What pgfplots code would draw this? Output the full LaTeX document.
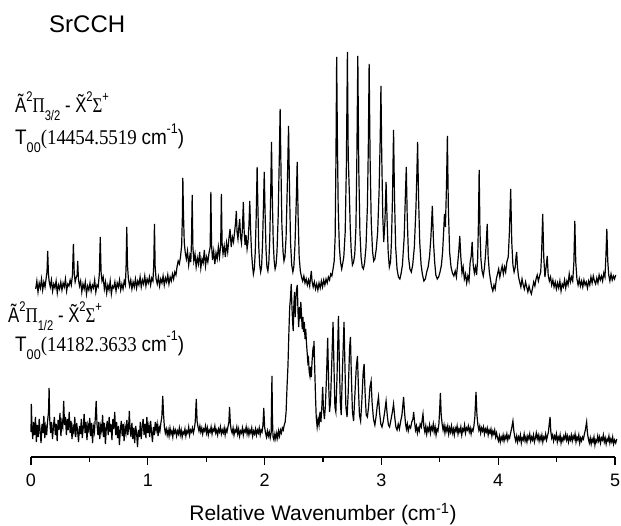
\documentclass[border=0pt]{standalone}
\usepackage{graphicx}
\usepackage{pgfplots}
\usepackage{pgfplotstable}
\pgfplotsset{compat=1.18}
\usepackage{fontspec}
\setmainfont{Liberation Sans}
\newfontfamily\serif{Liberation Serif}
\newcommand{\mysub}[1]{\raisebox{-0.35em}{\fontsize{14}{14}\selectfont #1}}
\newcommand{\mysup}[1]{\raisebox{0.55em}{\fontsize{14}{14}\selectfont #1}}

\pgfplotstableread[row sep=\\]{
x y\\
0.040 168\\ 0.050 176\\ 0.060 165\\ 0.070 174\\ 0.080 169\\ 0.090 178\\ 0.100 167\\ 0.110 175\\ 0.120 170\\ 0.130 179\\
0.137 185\\ 0.143 206\\ 0.149 184\\ 0.155 176\\ 0.165 170\\ 0.175 177\\ 0.185 166\\ 0.195 173\\ 0.205 169\\ 0.215 176\\
0.225 164\\ 0.235 172\\ 0.245 168\\ 0.255 175\\ 0.265 167\\ 0.275 174\\ 0.285 170\\ 0.295 178\\ 0.305 166\\ 0.315 173\\
0.325 171\\ 0.335 177\\ 0.345 172\\ 0.355 182\\ 0.363 213\\ 0.370 184\\ 0.378 175\\ 0.388 180\\ 0.395 182\\ 0.400 196\\
0.406 178\\ 0.415 171\\ 0.425 176\\ 0.435 165\\ 0.445 173\\ 0.455 168\\ 0.465 175\\ 0.475 163\\ 0.485 171\\ 0.495 167\\
0.505 174\\ 0.515 166\\ 0.525 172\\ 0.535 169\\ 0.545 177\\ 0.555 165\\ 0.565 172\\ 0.575 170\\ 0.585 183\\ 0.593 220\\
0.600 185\\ 0.608 176\\ 0.618 180\\ 0.628 168\\ 0.638 175\\ 0.648 164\\ 0.658 172\\ 0.668 167\\ 0.678 176\\ 0.688 163\\
0.698 171\\ 0.708 169\\ 0.718 175\\ 0.728 166\\ 0.738 174\\ 0.748 170\\ 0.758 177\\ 0.768 167\\ 0.778 173\\ 0.788 168\\
0.798 176\\ 0.808 172\\ 0.814 190\\ 0.820 230\\ 0.826 192\\ 0.834 178\\ 0.844 171\\ 0.854 177\\ 0.864 168\\ 0.874 175\\
0.884 170\\ 0.894 178\\ 0.904 169\\ 0.914 176\\ 0.924 172\\ 0.934 180\\ 0.944 170\\ 0.954 177\\ 0.964 173\\ 0.974 181\\
0.984 171\\ 0.994 178\\ 1.004 174\\ 1.014 180\\ 1.024 172\\ 1.034 179\\ 1.044 176\\ 1.051 192\\ 1.057 233\\ 1.063 190\\
1.071 178\\ 1.081 173\\ 1.091 180\\ 1.101 171\\ 1.111 178\\ 1.121 174\\ 1.131 181\\ 1.141 172\\ 1.151 179\\ 1.161 175\\
1.171 182\\ 1.181 173\\ 1.191 180\\ 1.201 176\\ 1.211 183\\ 1.221 178\\ 1.231 185\\ 1.241 182\\ 1.250 190\\ 1.260 196\\
1.270 193\\ 1.280 200\\ 1.290 212\\ 1.296 240\\ 1.300 279\\ 1.305 245\\ 1.312 215\\ 1.320 205\\ 1.330 198\\ 1.340 206\\
1.350 192\\ 1.360 201\\ 1.368 195\\ 1.374 215\\ 1.380 262\\ 1.386 210\\ 1.394 196\\ 1.404 203\\ 1.414 190\\ 1.424 199\\
1.434 193\\ 1.444 205\\ 1.454 189\\ 1.464 198\\ 1.474 194\\ 1.484 207\\ 1.494 191\\ 1.504 200\\ 1.514 195\\ 1.524 204\\
1.534 210\\ 1.540 265\\ 1.546 212\\ 1.554 197\\ 1.564 206\\ 1.574 193\\ 1.584 204\\ 1.594 198\\ 1.604 210\\ 1.614 200\\
1.624 212\\ 1.630 263\\ 1.636 214\\ 1.644 203\\ 1.654 211\\ 1.664 200\\ 1.674 214\\ 1.684 205\\ 1.694 218\\ 1.704 228\\
1.714 210\\ 1.724 220\\ 1.734 215\\ 1.744 226\\ 1.752 235\\ 1.758 246\\ 1.764 225\\ 1.772 218\\ 1.780 230\\ 1.787 238\\
1.794 220\\ 1.802 214\\ 1.810 228\\ 1.818 255\\ 1.825 226\\ 1.833 212\\ 1.841 222\\ 1.850 208\\ 1.858 215\\ 1.866 232\\
1.873 256\\ 1.880 228\\ 1.888 205\\ 1.896 192\\ 1.904 183\\ 1.912 188\\ 1.920 205\\ 1.928 240\\ 1.936 290\\ 1.943 248\\
1.950 210\\ 1.958 192\\ 1.966 185\\ 1.974 190\\ 1.982 212\\ 1.990 250\\ 1.997 285\\ 2.004 245\\ 2.012 208\\ 2.020 190\\
2.028 186\\ 2.036 194\\ 2.044 218\\ 2.052 262\\ 2.059 315\\ 2.066 260\\ 2.074 215\\ 2.082 196\\ 2.090 188\\ 2.098 192\\
2.106 205\\ 2.116 240\\ 2.126 300\\ 2.133 348\\ 2.140 290\\ 2.148 232\\ 2.158 205\\ 2.166 196\\ 2.174 200\\ 2.184 220\\
2.196 280\\ 2.205 331\\ 2.213 270\\ 2.222 215\\ 2.232 192\\ 2.242 185\\ 2.250 190\\ 2.260 212\\ 2.271 255\\ 2.279 295\\
2.287 240\\ 2.296 200\\ 2.306 186\\ 2.316 180\\ 2.326 176\\ 2.336 181\\ 2.346 174\\ 2.356 178\\ 2.366 172\\ 2.376 177\\
2.386 171\\ 2.394 180\\ 2.400 186\\ 2.406 176\\ 2.416 170\\ 2.426 175\\ 2.436 168\\ 2.446 173\\ 2.456 167\\ 2.466 174\\
2.476 169\\ 2.486 176\\ 2.496 170\\ 2.506 177\\ 2.516 172\\ 2.526 178\\ 2.536 174\\ 2.546 180\\ 2.556 177\\ 2.566 183\\
2.576 181\\ 2.586 188\\ 2.596 196\\ 2.604 220\\ 2.611 300\\ 2.617 400\\ 2.623 320\\ 2.630 250\\ 2.640 210\\ 2.650 195\\
2.660 188\\ 2.668 193\\ 2.678 200\\ 2.690 225\\ 2.700 290\\ 2.709 405\\ 2.716 300\\ 2.725 266\\ 2.733 230\\ 2.742 205\\
2.752 192\\ 2.762 195\\ 2.772 203\\ 2.782 230\\ 2.790 300\\ 2.798 401\\ 2.806 290\\ 2.816 225\\ 2.826 200\\ 2.836 190\\
2.846 188\\ 2.856 194\\ 2.868 210\\ 2.880 250\\ 2.888 310\\ 2.895 393\\ 2.903 300\\ 2.913 235\\ 2.924 206\\ 2.934 196\\
2.944 198\\ 2.956 208\\ 2.968 225\\ 2.980 265\\ 2.990 320\\ 2.996 371\\ 3.003 300\\ 3.012 240\\ 3.020 215\\ 3.030 235\\
3.040 275\\ 3.048 240\\ 3.058 205\\ 3.068 190\\ 3.078 195\\ 3.086 215\\ 3.095 260\\ 3.104 327\\ 3.112 260\\ 3.122 210\\
3.134 188\\ 3.146 180\\ 3.158 178\\ 3.168 183\\ 3.180 192\\ 3.195 220\\ 3.205 260\\ 3.213 290\\ 3.221 240\\ 3.232 200\\
3.244 188\\ 3.256 185\\ 3.268 192\\ 3.282 210\\ 3.296 250\\ 3.304 285\\ 3.310 315\\ 3.318 260\\ 3.328 215\\ 3.340 192\\
3.352 182\\ 3.364 176\\ 3.376 178\\ 3.388 185\\ 3.400 190\\ 3.412 200\\ 3.424 220\\ 3.436 251\\ 3.446 215\\ 3.456 195\\
3.466 182\\ 3.478 178\\ 3.490 180\\ 3.502 185\\ 3.514 192\\ 3.524 205\\ 3.534 228\\ 3.540 243\\ 3.548 230\\ 3.557 270\\
3.565 321\\ 3.573 250\\ 3.584 205\\ 3.596 190\\ 3.608 184\\ 3.620 181\\ 3.632 186\\ 3.642 180\\ 3.652 192\\ 3.662 205\\
3.671 221\\ 3.680 200\\ 3.690 184\\ 3.700 190\\ 3.710 178\\ 3.720 183\\ 3.730 174\\ 3.740 181\\ 3.750 176\\ 3.760 195\\
3.768 200\\ 3.777 215\\ 3.786 192\\ 3.796 184\\ 3.806 190\\ 3.815 182\\ 3.824 198\\ 3.830 230\\ 3.837 287\\ 3.844 225\\
3.852 198\\ 3.862 186\\ 3.872 181\\ 3.882 189\\ 3.890 200\\ 3.898 215\\ 3.906 233\\ 3.914 200\\ 3.924 185\\ 3.934 177\\
3.944 170\\ 3.954 166\\ 3.964 172\\ 3.974 168\\ 3.984 178\\ 3.994 183\\ 4.004 188\\ 4.014 180\\ 4.024 186\\ 4.034 191\\
4.044 183\\ 4.054 190\\ 4.064 185\\ 4.074 195\\ 4.086 200\\ 4.096 225\\ 4.107 268\\ 4.116 215\\ 4.126 192\\ 4.136 185\\
4.146 190\\ 4.152 200\\ 4.158 205\\ 4.165 190\\ 4.174 180\\ 4.184 175\\ 4.194 170\\ 4.204 178\\ 4.214 172\\ 4.224 168\\
4.234 175\\ 4.244 170\\ 4.254 165\\ 4.264 171\\ 4.274 166\\ 4.284 163\\ 4.294 169\\ 4.304 175\\ 4.314 171\\ 4.324 178\\
4.334 182\\ 4.344 176\\ 4.354 181\\ 4.364 185\\ 4.372 205\\ 4.381 243\\ 4.390 200\\ 4.400 180\\ 4.410 190\\ 4.420 201\\
4.428 182\\ 4.438 176\\ 4.448 180\\ 4.458 172\\ 4.468 177\\ 4.478 170\\ 4.488 175\\ 4.498 168\\ 4.508 174\\ 4.518 169\\
4.528 176\\ 4.538 166\\ 4.548 173\\ 4.558 170\\ 4.568 177\\ 4.578 169\\ 4.588 176\\ 4.598 172\\ 4.608 183\\ 4.618 175\\
4.628 180\\ 4.638 176\\ 4.648 195\\ 4.656 236\\ 4.664 195\\ 4.674 178\\ 4.684 172\\ 4.694 178\\ 4.704 171\\ 4.714 176\\
4.724 170\\ 4.734 177\\ 4.744 172\\ 4.754 175\\ 4.764 169\\ 4.774 176\\ 4.784 172\\ 4.794 180\\ 4.804 174\\ 4.814 181\\
4.824 176\\ 4.834 173\\ 4.844 179\\ 4.854 174\\ 4.864 182\\ 4.874 177\\ 4.884 181\\ 4.894 176\\ 4.904 184\\ 4.914 180\\
4.922 200\\ 4.930 228\\ 4.938 196\\ 4.946 182\\ 4.956 176\\ 4.966 183\\ 4.976 177\\ 4.986 181\\ 4.996 178\\ 5.006 182\\
}\upperdata

\pgfplotstableread[row sep=\\]{
x y\\
0.000 25\\ 0.003 53\\ 0.008 30\\ 0.015 18\\ 0.022 35\\ 0.030 22\\ 0.038 40\\ 0.046 15\\ 0.054 32\\ 0.062 20\\
0.070 38\\ 0.078 26\\ 0.086 14\\ 0.094 33\\ 0.102 24\\ 0.110 41\\ 0.118 19\\ 0.126 30\\ 0.134 22\\ 0.142 36\\
0.150 45\\ 0.155 69\\ 0.160 38\\ 0.168 24\\ 0.176 35\\ 0.184 18\\ 0.192 30\\ 0.200 40\\ 0.208 22\\ 0.216 33\\
0.224 16\\ 0.232 37\\ 0.240 27\\ 0.248 44\\ 0.256 21\\ 0.264 35\\ 0.272 30\\ 0.280 56\\ 0.287 32\\ 0.295 40\\
0.303 22\\ 0.311 38\\ 0.319 27\\ 0.327 45\\ 0.335 24\\ 0.343 36\\ 0.351 18\\ 0.359 30\\ 0.367 25\\ 0.375 40\\
0.383 20\\ 0.391 34\\ 0.399 26\\ 0.407 15\\ 0.415 31\\ 0.423 23\\ 0.431 38\\ 0.439 19\\ 0.447 29\\ 0.455 43\\
0.463 24\\ 0.471 35\\ 0.479 17\\ 0.487 32\\ 0.495 27\\ 0.503 39\\ 0.511 21\\ 0.519 34\\ 0.527 14\\ 0.535 30\\
0.543 25\\ 0.550 38\\ 0.558 56\\ 0.565 33\\ 0.573 22\\ 0.581 35\\ 0.589 18\\ 0.597 31\\ 0.605 26\\ 0.613 42\\
0.621 20\\ 0.629 34\\ 0.637 13\\ 0.645 29\\ 0.653 36\\ 0.661 22\\ 0.669 40\\ 0.677 25\\ 0.685 33\\ 0.693 17\\
0.701 38\\ 0.709 28\\ 0.717 45\\ 0.725 22\\ 0.733 35\\ 0.741 19\\ 0.749 31\\ 0.757 12\\ 0.765 27\\ 0.773 36\\
0.781 21\\ 0.789 33\\ 0.797 16\\ 0.805 30\\ 0.813 24\\ 0.821 37\\ 0.829 22\\ 0.836 30\\ 0.842 46\\ 0.848 28\\
0.856 20\\ 0.864 34\\ 0.872 18\\ 0.880 29\\ 0.888 14\\ 0.896 31\\ 0.904 24\\ 0.912 10\\ 0.920 27\\ 0.928 20\\
0.936 35\\ 0.944 18\\ 0.952 30\\ 0.960 38\\ 0.968 22\\ 0.976 33\\ 0.984 19\\ 0.992 40\\ 1.000 24\\ 1.008 31\\
1.016 20\\ 1.024 36\\ 1.032 25\\ 1.040 15\\ 1.048 30\\ 1.056 22\\ 1.064 35\\ 1.072 27\\ 1.080 33\\ 1.088 21\\
1.096 30\\ 1.104 26\\ 1.112 34\\ 1.120 40\\ 1.128 61\\ 1.135 42\\ 1.142 30\\ 1.150 24\\ 1.158 28\\ 1.166 22\\
1.174 27\\ 1.182 21\\ 1.190 29\\ 1.198 23\\ 1.206 26\\ 1.214 20\\ 1.222 28\\ 1.230 24\\ 1.238 27\\ 1.246 21\\
1.254 26\\ 1.262 23\\ 1.270 29\\ 1.278 22\\ 1.286 27\\ 1.294 20\\ 1.302 25\\ 1.310 23\\ 1.318 28\\ 1.326 21\\
1.334 26\\ 1.342 24\\ 1.350 30\\ 1.358 22\\ 1.366 27\\ 1.374 25\\ 1.382 29\\ 1.390 24\\ 1.398 28\\ 1.406 35\\
1.415 58\\ 1.422 36\\ 1.430 30\\ 1.438 26\\ 1.446 31\\ 1.454 25\\ 1.462 29\\ 1.470 23\\ 1.478 28\\ 1.486 26\\
1.494 31\\ 1.502 24\\ 1.510 29\\ 1.518 22\\ 1.526 27\\ 1.534 25\\ 1.542 30\\ 1.550 23\\ 1.558 28\\ 1.566 26\\
1.574 31\\ 1.582 24\\ 1.590 27\\ 1.598 22\\ 1.606 28\\ 1.614 25\\ 1.622 30\\ 1.630 23\\ 1.638 27\\ 1.646 24\\
1.654 29\\ 1.662 22\\ 1.670 28\\ 1.678 25\\ 1.686 30\\ 1.694 35\\ 1.700 50\\ 1.707 33\\ 1.714 27\\ 1.722 24\\
1.730 29\\ 1.738 22\\ 1.746 27\\ 1.754 25\\ 1.762 30\\ 1.770 23\\ 1.778 28\\ 1.786 21\\ 1.794 26\\ 1.802 24\\
1.810 29\\ 1.818 22\\ 1.826 27\\ 1.834 25\\ 1.842 30\\ 1.850 23\\ 1.858 28\\ 1.866 22\\ 1.874 27\\ 1.882 24\\
1.890 29\\ 1.898 21\\ 1.906 26\\ 1.914 23\\ 1.922 28\\ 1.930 22\\ 1.938 27\\ 1.946 24\\ 1.954 29\\ 1.962 22\\
1.970 27\\ 1.978 25\\ 1.986 32\\ 1.993 49\\ 2.000 30\\ 2.008 24\\ 2.016 20\\ 2.024 26\\ 2.032 21\\ 2.040 25\\
2.048 19\\ 2.056 24\\ 2.060 60\\ 2.063 81\\ 2.067 40\\ 2.072 20\\ 2.080 17\\ 2.088 23\\ 2.096 18\\ 2.104 24\\
2.112 19\\ 2.120 26\\ 2.128 21\\ 2.136 27\\ 2.144 24\\ 2.152 29\\ 2.160 27\\ 2.168 32\\ 2.176 35\\ 2.184 45\\
2.192 70\\ 2.200 91\\ 2.208 125\\ 2.215 150\\ 2.222 160\\ 2.228 173\\ 2.234 150\\ 2.240 135\\ 2.245 126\\ 2.250 150\\
2.256 165\\ 2.262 140\\ 2.268 158\\ 2.274 168\\ 2.280 172\\ 2.286 145\\ 2.292 130\\ 2.298 150\\ 2.304 138\\ 2.310 155\\
2.316 142\\ 2.322 128\\ 2.328 140\\ 2.334 125\\ 2.340 135\\ 2.346 118\\ 2.352 128\\ 2.358 115\\ 2.364 105\\ 2.370 95\\
2.376 98\\ 2.382 85\\ 2.388 81\\ 2.394 90\\ 2.400 80\\ 2.406 95\\ 2.412 105\\ 2.418 100\\ 2.423 116\\ 2.430 85\\
2.436 60\\ 2.442 40\\ 2.450 30\\ 2.458 38\\ 2.466 32\\ 2.474 45\\ 2.482 35\\ 2.490 50\\ 2.497 70\\ 2.504 48\\
2.512 38\\ 2.520 50\\ 2.530 80\\ 2.540 119\\ 2.548 75\\ 2.556 45\\ 2.564 55\\ 2.574 90\\ 2.586 135\\ 2.594 90\\
2.602 50\\ 2.610 45\\ 2.620 80\\ 2.632 141\\ 2.640 95\\ 2.648 55\\ 2.656 42\\ 2.666 85\\ 2.680 135\\ 2.688 90\\
2.696 50\\ 2.706 40\\ 2.716 65\\ 2.728 110\\ 2.735 120\\ 2.742 85\\ 2.752 45\\ 2.762 36\\ 2.772 60\\ 2.785 90\\
2.795 101\\ 2.803 70\\ 2.812 42\\ 2.822 36\\ 2.832 55\\ 2.844 85\\ 2.852 93\\ 2.860 65\\ 2.870 42\\ 2.880 40\\
2.890 50\\ 2.902 70\\ 2.912 76\\ 2.920 55\\ 2.932 38\\ 2.944 32\\ 2.954 40\\ 2.965 52\\ 2.975 60\\ 2.984 45\\
2.995 33\\ 3.005 30\\ 3.015 35\\ 3.028 45\\ 3.040 56\\ 3.050 42\\ 3.060 32\\ 3.070 30\\ 3.080 36\\ 3.094 45\\
3.104 53\\ 3.114 40\\ 3.124 30\\ 3.134 27\\ 3.144 33\\ 3.154 28\\ 3.164 35\\ 3.176 42\\ 3.190 60\\ 3.198 45\\
3.206 34\\ 3.214 28\\ 3.222 33\\ 3.230 26\\ 3.240 31\\ 3.250 29\\ 3.260 35\\ 3.270 38\\ 3.276 45\\ 3.284 35\\
3.292 27\\ 3.300 31\\ 3.308 24\\ 3.316 29\\ 3.324 26\\ 3.332 33\\ 3.342 30\\ 3.350 38\\ 3.356 43\\ 3.364 30\\
3.372 25\\ 3.380 31\\ 3.388 23\\ 3.396 29\\ 3.404 26\\ 3.412 32\\ 3.420 24\\ 3.428 30\\ 3.436 27\\ 3.444 33\\
3.452 25\\ 3.460 30\\ 3.468 22\\ 3.476 28\\ 3.484 26\\ 3.492 33\\ 3.498 45\\ 3.505 64\\ 3.512 42\\ 3.520 33\\
3.528 27\\ 3.536 32\\ 3.544 24\\ 3.552 30\\ 3.560 26\\ 3.568 31\\ 3.576 23\\ 3.584 29\\ 3.592 25\\ 3.600 31\\
3.608 24\\ 3.616 28\\ 3.624 22\\ 3.632 29\\ 3.640 26\\ 3.648 31\\ 3.656 23\\ 3.664 28\\ 3.672 25\\ 3.680 30\\
3.688 22\\ 3.696 28\\ 3.704 26\\ 3.712 32\\ 3.720 24\\ 3.728 29\\ 3.736 27\\ 3.744 31\\ 3.752 25\\ 3.760 29\\
3.768 23\\ 3.776 28\\ 3.784 26\\ 3.792 31\\ 3.800 40\\ 3.810 65\\ 3.818 42\\ 3.826 32\\ 3.834 27\\ 3.842 31\\
3.850 24\\ 3.858 29\\ 3.866 26\\ 3.874 30\\ 3.882 23\\ 3.890 28\\ 3.898 25\\ 3.906 29\\ 3.914 22\\ 3.922 27\\
3.930 24\\ 3.938 28\\ 3.946 21\\ 3.954 26\\ 3.962 23\\ 3.970 27\\ 3.978 20\\ 3.986 24\\ 3.994 19\\ 4.002 16\\
4.010 21\\ 4.018 15\\ 4.026 20\\ 4.034 17\\ 4.042 22\\ 4.050 16\\ 4.058 21\\ 4.066 18\\ 4.074 23\\ 4.082 17\\
4.090 21\\ 4.098 19\\ 4.106 24\\ 4.114 28\\ 4.126 36\\ 4.134 26\\ 4.142 20\\ 4.150 16\\ 4.158 21\\ 4.166 15\\
4.174 20\\ 4.182 17\\ 4.190 22\\ 4.198 14\\ 4.206 19\\ 4.214 17\\ 4.222 23\\ 4.230 16\\ 4.238 20\\ 4.246 15\\
4.254 21\\ 4.262 18\\ 4.270 23\\ 4.278 16\\ 4.286 20\\ 4.294 17\\ 4.302 22\\ 4.310 15\\ 4.318 19\\ 4.326 24\\
4.334 18\\ 4.342 22\\ 4.350 16\\ 4.358 21\\ 4.366 17\\ 4.374 22\\ 4.382 15\\ 4.390 20\\ 4.398 18\\ 4.406 23\\
4.414 17\\ 4.422 21\\ 4.430 25\\ 4.436 32\\ 4.444 40\\ 4.450 26\\ 4.458 19\\ 4.466 22\\ 4.474 16\\ 4.482 21\\
4.490 18\\ 4.498 23\\ 4.506 15\\ 4.514 20\\ 4.522 17\\ 4.530 22\\ 4.538 14\\ 4.546 19\\ 4.554 16\\ 4.562 21\\
4.570 18\\ 4.578 23\\ 4.586 17\\ 4.594 21\\ 4.602 15\\ 4.610 20\\ 4.618 17\\ 4.626 22\\ 4.634 16\\ 4.642 21\\
4.650 18\\ 4.658 23\\ 4.666 15\\ 4.674 20\\ 4.682 17\\ 4.690 22\\ 4.698 14\\ 4.706 19\\ 4.714 16\\ 4.722 20\\
4.730 18\\ 4.738 23\\ 4.746 27\\ 4.757 35\\ 4.764 24\\ 4.772 18\\ 4.780 14\\ 4.788 19\\ 4.796 13\\ 4.804 18\\
4.812 15\\ 4.820 20\\ 4.828 12\\ 4.836 17\\ 4.844 15\\ 4.852 21\\ 4.860 16\\ 4.868 20\\ 4.876 14\\ 4.884 19\\
4.892 17\\ 4.900 22\\ 4.908 15\\ 4.916 19\\ 4.924 13\\ 4.932 18\\ 4.940 16\\ 4.948 21\\ 4.956 14\\ 4.964 18\\
4.972 15\\ 4.980 20\\ 4.988 13\\ 4.996 17\\ 5.006 14\\ 5.015 18\\
}\lowerdata

\begin{document}
\begin{tikzpicture}[x=1pt,y=1pt]
\useasboundingbox (0,0) rectangle (621,526);
\begin{axis}[
  at={(31pt,69pt)}, anchor=south west,
  scale only axis, width=584pt, height=418pt,
  xmin=0, xmax=5, ymin=0, ymax=418,
  axis x line*=bottom, axis y line=none,
  axis line style={line width=1.2pt},
  xtick={0,1,2,3,4,5}, minor xtick={0.5,1.5,2.5,3.5,4.5},
  tick align=outside,
  major tick length=8pt, minor tick length=5pt,
  every tick/.style={black, line width=1.2pt},
  /pgf/number format/assume math mode=true,
  xticklabel style={font=\fontsize{18}{20}\selectfont, anchor=north, inner sep=0pt, yshift=-9pt},
  xlabel={Relative Wavenumber (cm\textsuperscript{-1})},
  xlabel style={font=\fontsize{21}{24}\selectfont, at={(axis description cs:0.5,0)}, anchor=base, yshift=-64pt},
  clip=false,
]
\addplot[black, line width=1.2pt] table {\upperdata};
\addplot[black, line width=1.2pt] table {\lowerdata};
\end{axis}
\node[anchor=base west, inner sep=0pt, font=\fontsize{24}{28}\selectfont] at (49,493) {SrCCH};
\node[anchor=base west, inner sep=0pt, font=\fontsize{21}{22}\selectfont] at (15,413)
  {\scalebox{0.8}[1]{\~{A}\mysup{2}{\serif Π}\mysub{3/2} - \~{X}\mysup{2}{\serif Σ}\mysup{+}}};
\node[anchor=base west, inner sep=0pt, font=\fontsize{21}{22}\selectfont] at (15,381)
  {\scalebox{0.9}[1]{T\mysub{00}{\serif (14454.5519 }cm\mysup{-1})}};
\node[anchor=base west, inner sep=0pt, font=\fontsize{21}{22}\selectfont] at (8,203)
  {\scalebox{0.8}[1]{\~{A}\mysup{2}{\serif Π}\mysub{1/2} - \~{X}\mysup{2}{\serif Σ}\mysup{+}}};
\node[anchor=base west, inner sep=0pt, font=\fontsize{21}{22}\selectfont] at (15,174)
  {\scalebox{0.9}[1]{T\mysub{00}{\serif (14182.3633 }cm\mysup{-1})}};
\end{tikzpicture}
\end{document}
